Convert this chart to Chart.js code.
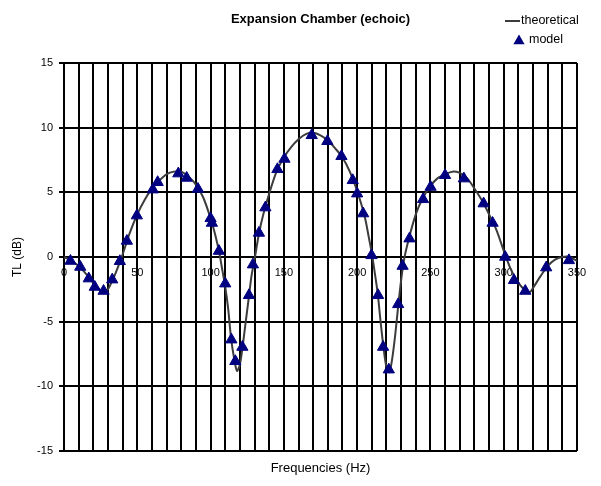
<!DOCTYPE html>
<html>
<head>
<meta charset="utf-8">
<script src="https://cdn.jsdelivr.net/npm/chart.js@4.4.0/dist/chart.umd.min.js"></script>
<style>
  html, body { margin: 0; padding: 0; background: #fff; }
  #wrap { width: 601px; height: 486px; }
</style>
</head>
<body>
<div id="wrap"><canvas id="c" width="601" height="486"></canvas></div>
<script>
// Theoretical transmission loss curve (Hz, dB)
const theoryFreq = [0, 5, 10, 15, 20, 25, 28, 30, 35, 40, 45, 50, 55, 60, 65, 70, 75, 80, 85, 90,
  95, 100, 103, 106, 108, 110, 112, 114, 116, 118, 120, 122, 124, 126, 128, 130, 133, 136, 140, 145,
  150, 155, 160, 165, 170, 175, 180, 185, 190, 195, 200, 205, 208, 210, 212, 214, 216, 218, 220, 222,
  224, 226, 228, 230, 232, 235, 240, 245, 250, 255, 260, 265, 270, 275, 280, 285, 290, 295, 300, 305,
  310, 315, 318, 320, 325, 330, 335, 340, 345, 350];
const theoryTL = [0, -0.3, -0.7, -1.3, -2.0, -2.6, -2.7, -2.5, -1.3, 0.2, 1.9, 3.3, 4.4, 5.3, 5.9, 6.4, 6.6, 6.6, 6.2, 5.6,
  4.6, 3.0, 1.8, 0.3, -1.0, -2.3, -4.0, -6.3, -7.8, -8.8, -8.3, -6.8, -5.0, -3.2, -1.4, -0.2, 1.8, 3.3, 4.9, 6.6,
  7.7, 8.5, 9.1, 9.5, 9.6, 9.4, 9.0, 8.4, 7.7, 6.6, 5.1, 3.2, 1.5, 0.3, -1.2, -2.8, -5.0, -7.0, -8.5, -8.9,
  -7.8, -6.0, -3.8, -1.8, -0.2, 1.3, 3.3, 4.6, 5.5, 6.1, 6.4, 6.6, 6.5, 6.1, 5.3, 4.4, 3.3, 2.1, 0.5, -1.0,
  -2.0, -2.6, -2.7, -2.4, -1.5, -0.7, -0.2, 0, 0, -0.3];

// Scale-model measurements (Hz, dB)
const modelFreq = [4.4, 11.1, 16.9, 21.0, 27.0, 32.9, 38.1, 42.9, 49.7, 60.6, 63.9, 78.0, 83.7, 91.4, 100.0, 100.9,
  105.7, 110.0, 114.2, 116.9, 121.7, 126.2, 128.9, 133.0, 137.4, 145.6, 150.4, 169.0, 179.7, 189.3, 197.0, 200.0,
  204.1, 209.8, 214.3, 217.7, 221.6, 228.0, 231.0, 235.7, 245.0, 250.1, 260.0, 272.8, 286.3, 292.4, 301.0, 307.0,
  314.7, 329.0, 344.5];
const modelTL = [-0.31, -0.77, -1.67, -2.32, -2.63, -1.75, -0.33, 1.24, 3.2, 5.21, 5.78, 6.45, 6.11, 5.26, 2.99, 2.63,
  0.46, -2.06, -6.39, -8.06, -6.96, -2.96, -0.59, 1.86, 3.82, 6.78, 7.58, 9.41, 8.95, 7.79, 5.93, 4.9,
  3.36, 0.13, -2.96, -6.96, -8.71, -3.66, -0.7, 1.42, 4.46, 5.41, 6.32, 6.06, 4.13, 2.63, 0, -1.8,
  -2.63, -0.82, -0.26];

const xLabelStep = 50;

const toPoints = (xs, ys) => xs.map((x, i) => ({ x: x, y: ys[i] }));

Chart.defaults.font.family = '"Liberation Sans", Arial, sans-serif';
Chart.defaults.color = '#000';

// Two-row key in the top-right corner, styled from the datasets
const cornerKey = {
  id: 'cornerKey',
  afterDraw(chart) {
    const ctx = chart.ctx;
    const line = chart.data.datasets.find(d => d.label === 'theoretical');
    const model = chart.data.datasets.find(d => d.label === 'model');
    ctx.save();
    ctx.font = '12.5px "Liberation Sans", Arial, sans-serif';
    ctx.textBaseline = 'middle';
    ctx.textAlign = 'left';
    ctx.fillStyle = '#000';
    ctx.strokeStyle = line.borderColor;
    ctx.lineWidth = 2;
    ctx.beginPath();
    ctx.moveTo(505, 21);
    ctx.lineTo(520, 21);
    ctx.stroke();
    ctx.fillText(line.label, 521, 21);

    const r = model.pointRadius;
    const cx = 519, cy = 41;
    ctx.fillStyle = model.backgroundColor;
    ctx.beginPath();
    ctx.moveTo(cx, cy - r);
    ctx.lineTo(cx + r * Math.sin(2 * Math.PI / 3), cy + r / 2);
    ctx.lineTo(cx - r * Math.sin(2 * Math.PI / 3), cy + r / 2);
    ctx.closePath();
    ctx.fill();
    ctx.fillStyle = '#000';
    ctx.fillText(model.label, 529, 40);
    ctx.restore();
  }
};

new Chart(document.getElementById('c'), {
  type: 'scatter',
  data: {
    datasets: [
      {
        label: 'model',
        data: toPoints(modelFreq, modelTL),
        showLine: false,
        pointStyle: 'triangle',
        pointRadius: 6.5,
        pointHoverRadius: 6.5,
        backgroundColor: '#000080',
        borderColor: '#000080',
        borderWidth: 1,
        order: 0
      },
      {
        label: 'theoretical',
        data: toPoints(theoryFreq, theoryTL),
        showLine: true,
        pointRadius: 0,
        borderColor: '#3c3c3c',
        borderWidth: 2,
        tension: 0.3,
        order: 1
      }
    ]
  },
  options: {
    responsive: false,
    animation: false,
    layout: { padding: { left: 0, right: 24, top: 0, bottom: 0 } },
    plugins: {
      legend: { display: false },
      tooltip: { enabled: false },
      title: {
        display: true,
        text: 'Expansion Chamber (echoic)',
        fullSize: false,
        color: '#000',
        font: { size: 13, weight: 'bold' },
        padding: { top: 12, bottom: 35.4 }
      }
    },
    scales: {
      x: {
        type: 'linear',
        min: 0,
        max: 350,
        position: { y: 0 },
        ticks: {
          stepSize: 10,
          autoSkip: false,
          maxRotation: 0,
          padding: 9,
          font: { size: 11 },
          color: '#000',
          callback: v => (v % xLabelStep === 0 ? String(v) : '')
        },
        grid: { color: '#000', lineWidth: 2, drawTicks: false },
        border: { color: '#000', width: 2 }
      },
      x2: {
        type: 'linear',
        position: 'bottom',
        min: 0,
        max: 350,
        grid: { display: false },
        border: { display: false },
        ticks: { display: false },
        title: {
          display: true,
          text: 'Frequencies (Hz)',
          color: '#000',
          font: { size: 13 },
          padding: { top: 0, bottom: 10.2 }
        },
        afterFit(s) { s.height = 35; }
      },
      y: {
        type: 'linear',
        position: 'left',
        min: -15,
        max: 15,
        ticks: { stepSize: 5, padding: 6, font: { size: 11 }, color: '#000' },
        grid: { color: '#000', lineWidth: 2, tickLength: 5 },
        border: { color: '#000', width: 2 },
        title: {
          display: true,
          text: 'TL (dB)',
          color: '#000',
          font: { size: 12 },
          padding: { top: 10.8, bottom: 0 }
        },
        afterFit(s) { s.width = 64; }
      }
    }
  },
  plugins: [cornerKey]
});
</script>
</body>
</html>
